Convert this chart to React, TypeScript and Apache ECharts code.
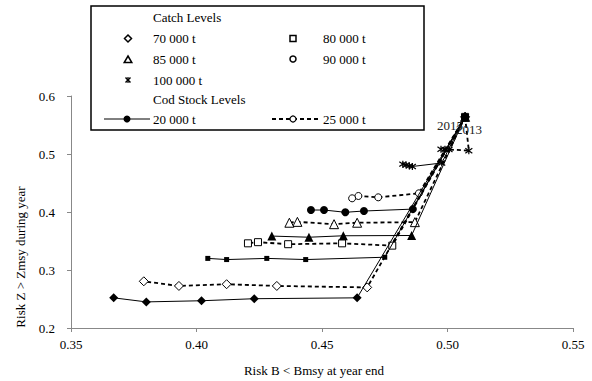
import React, { useEffect, useRef } from "react";
import * as echarts from "echarts";

// ---- data ----
const TOP_X = 0.507;
const TOP_Y = 0.564;

// Catch 70 000 t
const c70s20X = [TOP_X, 0.464, 0.423, 0.402, 0.38, 0.367];
const c70s20Y = [TOP_Y, 0.252, 0.2505, 0.247, 0.245, 0.252];
const c70s25X = [TOP_X, 0.468, 0.432, 0.412, 0.393, 0.379];
const c70s25Y = [TOP_Y, 0.27, 0.2725, 0.2755, 0.2725, 0.2805];
// Catch 80 000 t
const c80s20X = [TOP_X, 0.475, 0.4435, 0.428, 0.412, 0.4045];
const c80s20Y = [TOP_Y, 0.322, 0.318, 0.32, 0.318, 0.32];
const c80s25X = [TOP_X, 0.478, 0.458, 0.4365, 0.4245, 0.4205];
const c80s25Y = [TOP_Y, 0.342, 0.346, 0.3445, 0.348, 0.346];
// Catch 85 000 t
const c85s20X = [TOP_X, 0.4857, 0.4585, 0.4448, 0.43];
const c85s20Y = [TOP_Y, 0.3595, 0.359, 0.3565, 0.3585];
const c85s25X = [TOP_X, 0.487, 0.464, 0.4548, 0.4402, 0.437];
const c85s25Y = [TOP_Y, 0.3825, 0.3815, 0.379, 0.383, 0.3815];
// Catch 90 000 t
const c90s20X = [TOP_X, 0.4862, 0.4667, 0.4593, 0.4508, 0.4456];
const c90s20Y = [TOP_Y, 0.405, 0.4017, 0.3995, 0.4034, 0.4034];
const c90s25X = [TOP_X, 0.4886, 0.4724, 0.4645, 0.462];
const c90s25Y = [TOP_Y, 0.4322, 0.4253, 0.4276, 0.4236];
// Catch 100 000 t
const c100s20X = [TOP_X, 0.4977, 0.486, 0.4848, 0.4835, 0.4822];
const c100s20Y = [TOP_Y, 0.4845, 0.4785, 0.4795, 0.481, 0.4825];
const c100s25X = [TOP_X, 0.5085, 0.5006, 0.499, 0.4974];
const c100s25Y = [TOP_Y, 0.5057, 0.5078, 0.508, 0.5082];

const X_MIN = 0.35;
const X_MAX = 0.55;
const X_STEP = 0.05;
const Y_MIN = 0.2;
const Y_MAX = 0.6;
const Y_STEP = 0.1;

const YEAR_LABELS = ["2015", "2013"];
const CATCH_LABELS = ["70 000 t", "80 000 t", "85 000 t", "90 000 t", "100 000 t"];
const STOCK_LABELS = ["20 000 t", "25 000 t"];

const FONT = '"Liberation Serif", "Times New Roman", serif';
const STAR = "path://M5,0L5,10M0,1.5L10,8.5M0,8.5L10,1.5";

const zip = (xs: number[], ys: number[]) => xs.map((x, i) => [x, ys[i]]);

const filled = { color: "#000", borderColor: "#000", borderWidth: 0 };
const open = { color: "#fff", borderColor: "#000", borderWidth: 1 };
const starStyle = { color: "#000", borderColor: "#000", borderWidth: 1.2 };

function mk(name: string, xs: number[], ys: number[], symbol: string, size: number, solid: boolean, item: any) {
  return {
    type: "line",
    name,
    data: zip(xs, ys),
    symbol,
    symbolSize: size,
    showSymbol: true,
    itemStyle: item,
    lineStyle: solid
      ? { color: "#000", width: 1, type: "solid" }
      : { color: "#000", width: 1.8, type: [4, 3] },
    emphasis: { disabled: true },
    z: solid ? 3 : 2,
  };
}

export default function App() {
  const ref = useRef<HTMLDivElement>(null);

  useEffect(() => {
    document.body.style.margin = "0";
    if (!ref.current) return;
    const chart = echarts.init(ref.current, undefined, { renderer: "svg" });

    const tf = (s: string, x: number, y: number, extra: any = {}) => ({
      type: "text",
      x,
      y,
      z: 100,
      style: { text: s, font: `13px ${FONT}`, fill: "#000", verticalAlign: "middle", align: "left", ...extra },
    });

    const L = 128; // legend symbol column 1
    const R = 293; // legend symbol column 2
    const rows = [38.5, 59.5, 80, 99, 119];

    const graphic: any[] = [
      {
        type: "rect",
        z: 90,
        shape: { x: 91, y: 6, width: 333, height: 124 },
        style: { fill: "#fff", stroke: "#000", lineWidth: 1.5 },
      },
      tf("Catch Levels", 153, 17),
      {
        type: "polygon",
        z: 100,
        shape: { points: [[L, rows[0] - 3.5], [L + 3.5, rows[0]], [L, rows[0] + 3.5], [L - 3.5, rows[0]]] },
        style: { fill: "#fff", stroke: "#000", lineWidth: 1.5 },
      },
      tf(CATCH_LABELS[0], 153, rows[0]),
      {
        type: "rect",
        z: 100,
        shape: { x: R - 3, y: rows[0] - 3, width: 6, height: 6 },
        style: { fill: "#fff", stroke: "#000", lineWidth: 1.5 },
      },
      tf(CATCH_LABELS[1], 323, rows[0]),
      {
        type: "polygon",
        z: 100,
        shape: { points: [[L, rows[1] - 3.5], [L + 3.8, rows[1] + 3], [L - 3.8, rows[1] + 3]] },
        style: { fill: "#fff", stroke: "#000", lineWidth: 1.5 },
      },
      tf(CATCH_LABELS[2], 153, rows[1]),
      {
        type: "circle",
        z: 100,
        shape: { cx: R, cy: rows[1] - 0.5, r: 3 },
        style: { fill: "#fff", stroke: "#000", lineWidth: 1.5 },
      },
      tf(CATCH_LABELS[3], 323, rows[1]),
      { type: "line", z: 100, shape: { x1: L - 2.5, y1: rows[2] - 2.5, x2: L + 2.5, y2: rows[2] + 2.5 }, style: { stroke: "#000", lineWidth: 1.5 } },
      { type: "line", z: 100, shape: { x1: L - 2.5, y1: rows[2] + 2.5, x2: L + 2.5, y2: rows[2] - 2.5 }, style: { stroke: "#000", lineWidth: 1.5 } },
      { type: "line", z: 100, shape: { x1: L, y1: rows[2] - 3, x2: L, y2: rows[2] + 3 }, style: { stroke: "#000", lineWidth: 1.2 } },
      tf(CATCH_LABELS[4], 153, rows[2]),
      tf("Cod Stock Levels", 153, rows[3]),
      { type: "line", z: 100, shape: { x1: 104, y1: rows[4], x2: 150, y2: rows[4] }, style: { stroke: "#000", lineWidth: 1 } },
      { type: "circle", z: 101, shape: { cx: 127, cy: rows[4], r: 3.5 }, style: { fill: "#000" } },
      tf(STOCK_LABELS[0], 153, rows[4]),
      { type: "line", z: 100, shape: { x1: 272, y1: rows[4], x2: 318, y2: rows[4] }, style: { stroke: "#000", lineWidth: 1.8, lineDash: [4, 3] } },
      { type: "circle", z: 101, shape: { cx: 293, cy: rows[4], r: 3 }, style: { fill: "#fff", stroke: "#000", lineWidth: 1.2 } },
      tf(STOCK_LABELS[1], 323, rows[4]),
      tf(YEAR_LABELS[0], 437, 125, { fill: "#222" }),
      tf(YEAR_LABELS[1], 456, 129, { fill: "#222" }),
      tf("Risk B < Bmsy at year end", 314, 370, { align: "center" }),
      {
        type: "text",
        x: 20,
        y: 257,
        rotation: Math.PI / 2,
        z: 100,
        style: { text: "Risk Z > Zmsy during year", font: `13px ${FONT}`, fill: "#000", align: "center", verticalAlign: "middle" },
      },
    ];

    chart.setOption({
      animation: false,
      grid: { left: 71, right: 19, top: 96, bottom: 53, containLabel: false },
      xAxis: {
        type: "value",
        min: X_MIN,
        max: X_MAX,
        interval: X_STEP,
        splitLine: { show: false },
        axisLine: { show: true, onZero: false, lineStyle: { color: "#888", width: 1 } },
        axisTick: { show: true, length: 4, lineStyle: { color: "#888" } },
        axisLabel: { margin: 10, color: "#000", fontFamily: "Liberation Serif", fontSize: 13, formatter: (v: number) => v.toFixed(2) },
      },
      yAxis: {
        type: "value",
        min: Y_MIN,
        max: Y_MAX,
        interval: Y_STEP,
        splitLine: { show: false },
        axisLine: { show: true, onZero: false, lineStyle: { color: "#888", width: 1 } },
        axisTick: { show: true, length: 4, lineStyle: { color: "#888" } },
        axisLabel: { margin: 16, color: "#000", fontFamily: "Liberation Serif", fontSize: 13, formatter: (v: number) => v.toFixed(1) },
      },
      series: [
        mk("70/25", c70s25X, c70s25Y, "diamond", 9, false, open),
        mk("80/25", c80s25X, c80s25Y, "rect", 7, false, open),
        mk("85/25", c85s25X, c85s25Y, "triangle", 9, false, open),
        mk("90/25", c90s25X, c90s25Y, "circle", 7, false, open),
        mk("100/25", c100s25X, c100s25Y, STAR, 7, false, starStyle),
        mk("70/20", c70s20X, c70s20Y, "diamond", 9, true, filled),
        mk("80/20", c80s20X, c80s20Y, "rect", 5, true, filled),
        mk("85/20", c85s20X, c85s20Y, "triangle", 9, true, filled),
        mk("90/20", c90s20X, c90s20Y, "circle", 8, true, filled),
        mk("100/20", c100s20X, c100s20Y, STAR, 7, true, starStyle),
      ],
      graphic,
    });

    return () => chart.dispose();
  }, []);

  return <div ref={ref} style={{ width: 592, height: 381 }} />;
}
